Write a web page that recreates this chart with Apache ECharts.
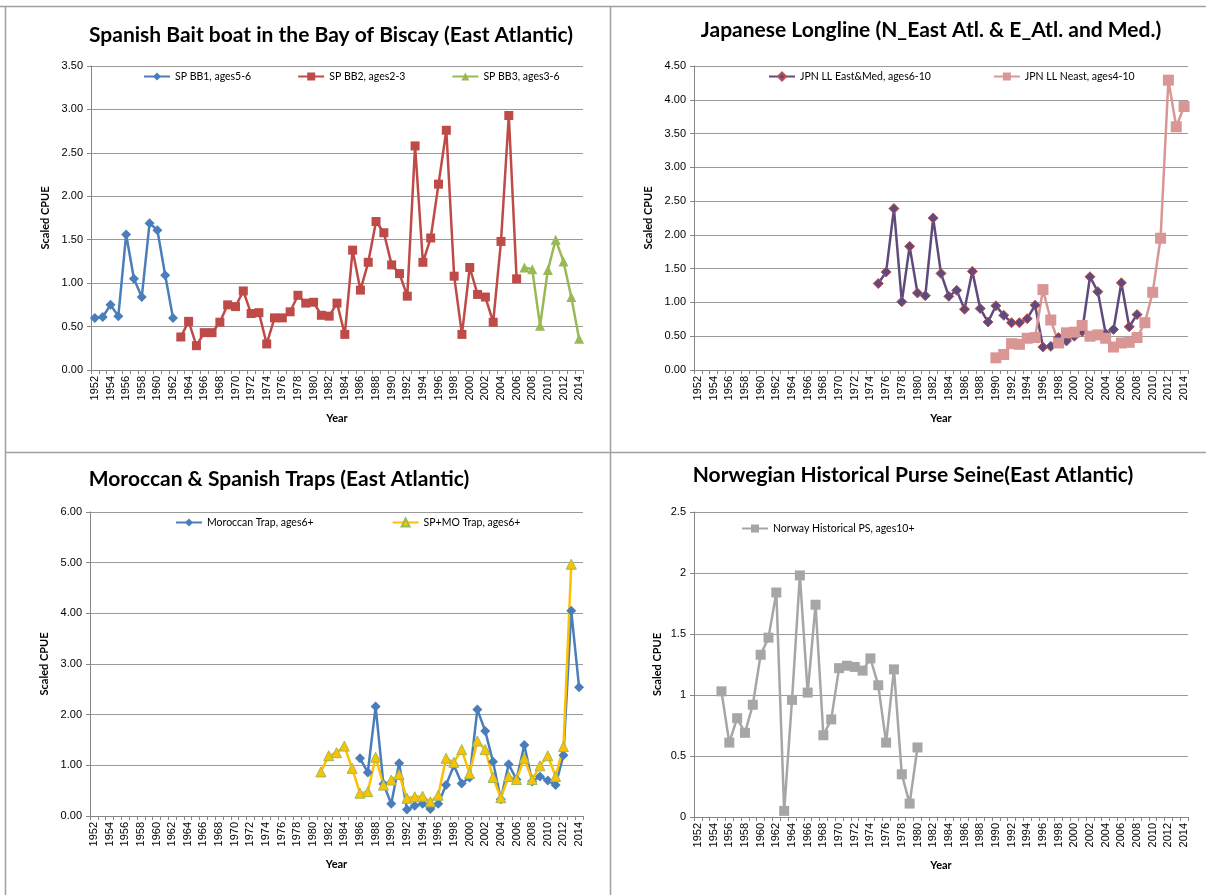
<!DOCTYPE html>
<html><head><meta charset="utf-8">
<script src="https://cdn.jsdelivr.net/npm/echarts@6/dist/echarts.min.js"></script>
<style>html,body{margin:0;padding:0;background:#fff}#c{width:1206px;height:895px}</style>
</head><body><div id="c"></div>
<script>
// ---- data ----
const yearFirst = 1952, yearLast = 2014;
const years = [];
for (let y = yearFirst; y <= yearLast; y++) years.push(String(y));

// Spanish bait boat
const spBB1Start = 1952;
const spBB1 = [0.60,0.61,0.75,0.62,1.56,1.05,0.84,1.69,1.61,1.09,0.60];
const spBB2Start = 1963;
const spBB2 = [0.38,0.56,0.28,0.43,0.43,0.55,0.75,0.73,0.91,0.65,0.66,0.30,0.60,0.60,0.67,0.86,0.77,0.78,0.63,0.62,0.77,0.41,
               1.38,0.92,1.24,1.71,1.58,1.21,1.11,0.85,2.58,1.24,1.52,2.14,2.76,1.08,0.41,1.18,0.87,0.84,0.55,1.48,2.93,1.05];
const spBB3Start = 2007;
const spBB3 = [1.18,1.16,0.51,1.15,1.50,1.25,0.84,0.36];

// Japanese longline
const jpnEMStart = 1975;
const jpnEM = [1.28,1.45,2.39,1.01,1.83,1.14,1.10,2.25,1.43,1.09,1.18,0.90,1.46,0.91,0.71,0.95,0.81,0.70,0.70,0.76,0.96,
               0.34,0.35,0.48,0.43,0.50,0.57,1.38,1.16,0.54,0.60,1.29,0.64,0.82];
const jpnNEStart = 1990;
const jpnNE = [0.18,0.23,0.39,0.38,0.47,0.48,1.19,0.74,0.40,0.55,0.56,0.66,0.50,0.52,0.47,0.34,0.40,0.41,0.48,0.70,
               1.15,1.95,4.29,3.60,3.90];

// Traps
const moTrapStart = 1986;
const moTrap = [1.14,0.86,2.16,0.63,0.24,1.04,0.13,0.20,0.24,0.14,0.24,0.61,1.00,0.64,0.76,2.10,1.68,1.07,0.33,1.02,
                0.72,1.40,0.68,0.78,0.70,0.61,1.20,4.05,2.54];
const spmoTrapStart = 1981;
const spmoTrap = [0.87,1.19,1.25,1.38,0.94,0.45,0.48,1.16,0.61,0.71,0.82,0.35,0.38,0.39,0.28,0.41,1.14,1.06,1.31,0.84,
                  1.48,1.31,0.76,0.36,0.78,0.72,1.14,0.72,0.99,1.19,0.78,1.37,4.97];

// Norway
const norStart = 1955;
const norPS = [1.03,0.61,0.81,0.69,0.92,1.33,1.47,1.84,0.05,0.96,1.98,1.02,1.74,0.67,0.80,1.22,1.24,1.23,1.20,1.30,
               1.08,0.61,1.21,0.35,0.11,0.57];

const yTicks1 = {max:3.5, interval:0.5};
const yTicks2 = {max:4.5, interval:0.5};
const yTicks3 = {max:6, interval:1};
const yTicks4 = {max:2.5, interval:0.5};

function pad(start, vals){
  const out = years.map(()=>null);
  vals.forEach((v,i)=>{ out[start - yearFirst + i] = v; });
  return out;
}

// ---- styling ----
const FONT_T = 'Lato';
const FONT_A = 'Liberation Sans';
const gridCol = '#9a9a9a';
const axisCol = '#868686';

const grids = [
  {left:91, top:66, width:492, height:304},
  {left:694, top:66, width:494, height:304},
  {left:90, top:512, width:493, height:304},
  {left:694, top:512, width:494, height:305}
];

function xAx(i){
  return {type:'category', gridIndex:i, data:years, boundaryGap:true,
    name:'Year', nameLocation:'middle', nameGap:43,
    nameTextStyle:{fontFamily:FONT_T, fontWeight:'bold', fontSize:11, color:'#000'},
    axisLine:{lineStyle:{color:axisCol, width:1}},
    axisTick:{show:true, interval:0, length:4, lineStyle:{color:axisCol}},
    axisLabel:{interval:1, rotate:90, fontFamily:FONT_A, fontSize:11, color:'#000', margin:6},
    splitLine:{show:false}};
}
function yAx(i, t, fmt){
  return {type:'value', gridIndex:i, min:0, max:t.max, interval:t.interval,
    name:'Scaled CPUE', nameLocation:'middle', nameGap: i===3 ? 31 : 40, nameRotate:90,
    nameTextStyle:{fontFamily:FONT_T, fontWeight:'bold', fontSize:11, color:'#000'},
    axisLine:{show:true, lineStyle:{color:axisCol}},
    axisTick:{show:true, length:4, lineStyle:{color:axisCol}},
    axisLabel:{fontFamily:FONT_A, fontSize:11, color:'#000', margin:8, formatter:fmt},
    splitLine:{show:true, lineStyle:{color:gridCol, width:1}}};
}
const f2 = v => v.toFixed(2);
const f0 = v => String(v);

function ser(name, idx, data, color, symbol, size, border){
  return {name, type:'line', xAxisIndex:idx, yAxisIndex:idx, data, connectNulls:false,
    symbol, symbolSize:size, showAllSymbol:true,
    lineStyle:{color, width:2.5},
    itemStyle:{color: border ? border.fill : color, borderColor: border ? border.color : color, borderWidth: border ? 1 : 0},
    animation:false};
}

const legendText = {fontFamily:FONT_T, fontSize:10.5, color:'#000'};
function legend(names, left, top, gap){
  return {data:names, left, top, itemWidth:26, itemHeight:10, itemGap:gap, textStyle:legendText, padding:0};
}
const titleStyle = {fontFamily:FONT_T, fontWeight:'bold', fontSize:21, color:'#000'};

const option = {
  animation:false,
  backgroundColor:'#fff',
  title:[
    {text:'Spanish Bait boat in the Bay of Biscay (East Atlantic)', left:331, top:25, textAlign:'center', padding:0, textStyle:titleStyle},
    {text:'Japanese Longline (N_East Atl. & E_Atl. and Med.)', left:931, top:20, textAlign:'center', padding:0, textStyle:titleStyle},
    {text:'Moroccan & Spanish Traps (East Atlantic)', left:279, top:469, textAlign:'center', padding:0, textStyle:titleStyle},
    {text:'Norwegian Historical Purse Seine(East Atlantic)', left:913, top:465, textAlign:'center', padding:0, textStyle:titleStyle}
  ],
  legend:[
    legend(['SP BB1, ages5-6','SP BB2, ages2-3','SP BB3, ages3-6'], 143, 71, 46),
    legend(['JPN LL East&Med, ages6-10','JPN LL Neast, ages4-10'], 768, 71, 62),
    legend(['Moroccan Trap, ages6+','SP+MO Trap, ages6+'], 175, 517, 78),
    legend(['Norway Historical PS, ages10+'], 741, 523, 40)
  ],
  grid: grids,
  xAxis: [xAx(0), xAx(1), xAx(2), xAx(3)],
  yAxis: [yAx(0,yTicks1,f2), yAx(1,yTicks2,f2), yAx(2,yTicks3,f2), yAx(3,yTicks4,f0)],
  series:[
    ser('SP BB1, ages5-6', 0, pad(spBB1Start, spBB1), '#4A7EBB', 'diamond', 10),
    ser('SP BB2, ages2-3', 0, pad(spBB2Start, spBB2), '#BE4B48', 'rect', 9),
    ser('SP BB3, ages3-6', 0, pad(spBB3Start, spBB3), '#98B954', 'triangle', 10),
    ser('JPN LL East&Med, ages6-10', 1, pad(jpnEMStart, jpnEM), '#5F4A7E', 'diamond', 10, {fill:'#5F4A7E', color:'#C0504D'}),
    ser('JPN LL Neast, ages4-10', 1, pad(jpnNEStart, jpnNE), '#D99694', 'rect', 11),
    ser('Moroccan Trap, ages6+', 2, pad(moTrapStart, moTrap), '#4A7EBB', 'diamond', 10),
    ser('SP+MO Trap, ages6+', 2, pad(spmoTrapStart, spmoTrap), '#FFC000', 'triangle', 10, {fill:'#FFC000', color:'#9BBB59'}),
    ser('Norway Historical PS, ages10+', 3, pad(norStart, norPS), '#A6A6A6', 'rect', 10)
  ],
  graphic:[
    {type:'line', shape:{x1:0, y1:6.5, x2:1206, y2:6.5}, style:{stroke:'#a0a0a0', lineWidth:1.5}},
    {type:'line', shape:{x1:5.5, y1:6, x2:5.5, y2:895}, style:{stroke:'#a0a0a0', lineWidth:1.5}},
    {type:'line', shape:{x1:610.5, y1:6, x2:610.5, y2:895}, style:{stroke:'#a0a0a0', lineWidth:1.5}},
    {type:'line', shape:{x1:5, y1:452.5, x2:1206, y2:452.5}, style:{stroke:'#a0a0a0', lineWidth:1.5}}
  ]
};
const chart = echarts.init(document.getElementById('c'), null, {renderer:'canvas'});
chart.setOption(option);
</script></body></html>
